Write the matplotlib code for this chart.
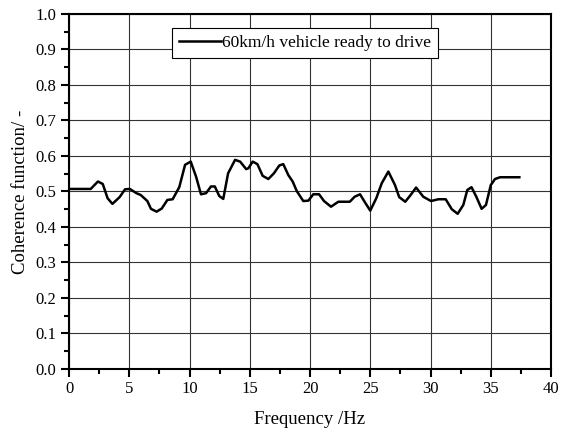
import matplotlib
matplotlib.use("Agg")
import matplotlib.pyplot as plt
from matplotlib.ticker import MultipleLocator

plt.rcParams['font.family'] = ['Liberation Serif', 'DejaVu Serif']

# coherence curve
freq = [0.0, 1.8, 2.4, 2.8, 3.2, 3.6, 4.2, 4.65, 5.05, 5.6, 5.95, 6.5, 6.8,
        7.27, 7.7, 8.16, 8.6, 9.15, 9.63, 10.1, 10.54, 10.95, 11.37, 11.78,
        12.1, 12.47, 12.8, 13.2, 13.78, 14.2, 14.7, 14.88, 15.24, 15.63,
        16.07, 16.54, 17.0, 17.45, 17.78, 18.2, 18.56, 18.9, 19.44, 19.86,
        20.27, 20.75, 21.16, 21.74, 22.35, 23.3, 23.7, 24.15, 24.6, 25.0,
        25.5, 25.95, 26.5, 27.05, 27.4, 27.9, 28.35, 28.8, 29.4, 30.04,
        30.65, 31.26, 31.76, 32.25, 32.72, 33.05, 33.4, 33.8, 34.24, 34.6,
        35.0, 35.35, 35.77, 37.37]
coh = [0.507, 0.507, 0.528, 0.521, 0.481, 0.465, 0.484, 0.506, 0.507, 0.495,
       0.490, 0.473, 0.451, 0.443, 0.452, 0.476, 0.478, 0.512, 0.575, 0.584,
       0.542, 0.492, 0.495, 0.514, 0.514, 0.487, 0.479, 0.551, 0.589, 0.584,
       0.563, 0.565, 0.584, 0.577, 0.544, 0.535, 0.551, 0.573, 0.577, 0.546,
       0.528, 0.501, 0.473, 0.474, 0.492, 0.492, 0.473, 0.457, 0.471, 0.471,
       0.485, 0.492, 0.467, 0.446, 0.481, 0.523, 0.556, 0.518, 0.484, 0.471,
       0.490, 0.511, 0.485, 0.473, 0.478, 0.478, 0.450, 0.437, 0.462, 0.504,
       0.512, 0.485, 0.451, 0.462, 0.518, 0.535, 0.540, 0.540]

fig = plt.figure(figsize=(5.62, 4.29), dpi=100)
ax = fig.add_axes([0.1228, 0.140, 0.8577, 0.8275])

ax.plot(freq, coh, color='black', lw=1.8, label='60km/h vehicle ready to drive')

ax.set_xlim(0, 40)
ax.set_ylim(0, 1.0)
ax.xaxis.set_major_locator(MultipleLocator(5))
ax.xaxis.set_minor_locator(MultipleLocator(2.5))
ax.yaxis.set_minor_locator(MultipleLocator(0.05))
ax.set_yticks([i / 10 for i in range(11)])
ax.set_yticklabels(['%.1f' % (i / 10) for i in range(11)])

ax.grid(True, which='major', color='#333333', lw=0.8)
ax.set_axisbelow(True)
ax.tick_params(which='major', direction='out', length=6, width=1.5, labelsize=12, pad=3)
ax.tick_params(which='minor', direction='out', length=3.5, width=1.5)
for s in ax.spines.values():
    s.set_linewidth(1.5)

ax.set_xlabel('Frequency /Hz', fontsize=13.5, labelpad=10)
ax.set_ylabel('Coherence function/ -', fontsize=13.5, labelpad=5)

leg = ax.legend(loc='upper center', bbox_to_anchor=(0.49, 0.985), fontsize=12.5,
                fancybox=False, framealpha=1, edgecolor='black',
                handlelength=2.4, handletextpad=0.1, borderpad=0.4)
leg.get_frame().set_linewidth(0.8)

fig.savefig('out.png', dpi=100)
